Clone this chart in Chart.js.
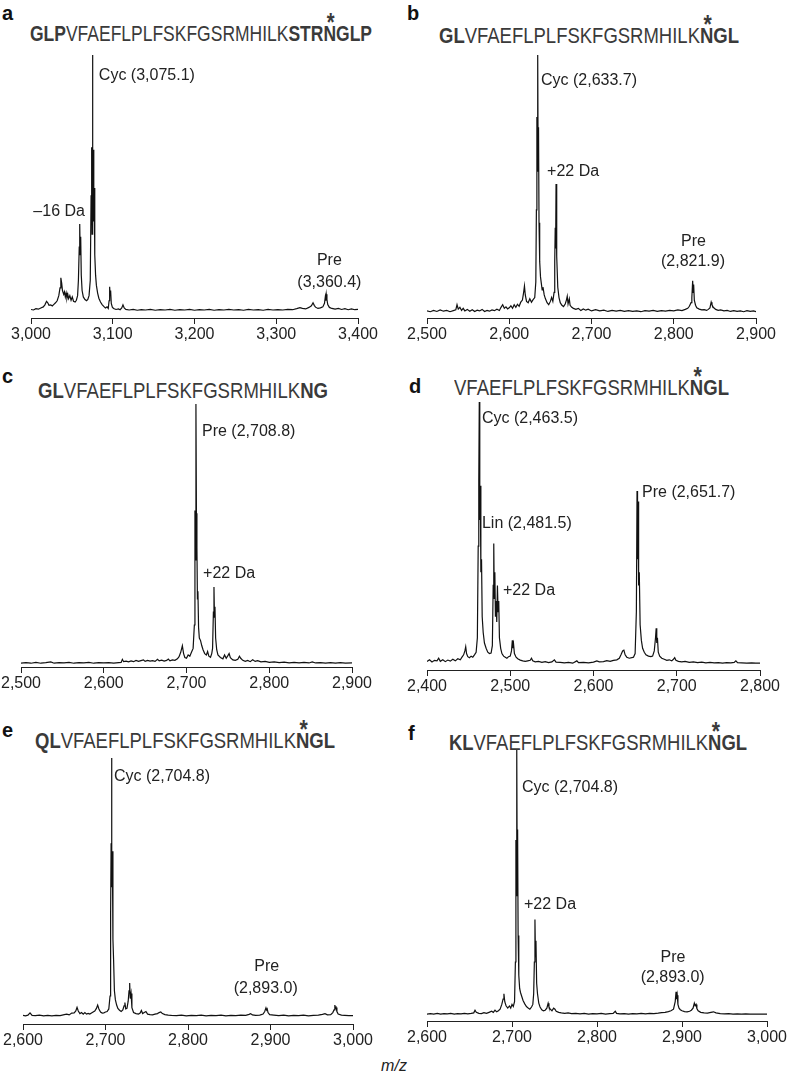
<!DOCTYPE html>
<html>
<head>
<meta charset="utf-8">
<script src="https://cdn.jsdelivr.net/npm/chart.js@4.4.0/dist/chart.umd.min.js"></script>
<style>
  body { margin: 0; background: #fff; }
  #page { position: relative; width: 788px; height: 1077px; overflow: hidden; font-family: "Liberation Sans", Arial, sans-serif; }
  .letter { position: absolute; font-weight: bold; font-size: 20px; line-height: 1; color: #111; }
  .seq { position: absolute; font-size: 22px; line-height: 1; color: #3a3a3a; white-space: nowrap; transform-origin: 0 0; }
  .seq b { font-weight: bold; }
  .n { position: relative; }
  .ast { position: absolute; left: 0.17em; top: -0.42em; font-size: 1.15em; font-weight: bold; }
  canvas { position: absolute; }
  #mz { position: absolute; left: 394px; top: 1058px; transform: translateX(-50%); font-style: italic; font-size: 16px; line-height: 1; color: #222; }
</style>
</head>
<body>
<div id="page"><div id="mz">m/z</div></div>
<script>
// spectra: [m/z, relative intensity %]
const spectrumA = [[3000,0.6],[3003,0.4],[3006,0.9],[3009,0.7],[3012,1.2],[3015,1.6],[3017,2.4],[3019,3.8],[3020.5,3.2],[3022,2.2],[3024,2.4],[3026,2.0],[3028,2.6],[3030,3.2],[3032,4.0],[3034,6.0],[3035.5,9],[3036.5,13],[3037.5,11],[3038.5,8],[3040,6.5],[3041,7.5],[3042,5.5],[3043,7],[3044,5],[3045,6.5],[3046,4.8],[3047.5,6],[3049,4.2],[3050.5,5.5],[3052,3.8],[3054,3.5],[3055.5,4.2],[3057,6],[3058,12],[3059,25],[3059.6,34],[3060.2,22],[3060.8,29],[3061.5,14],[3062.5,8],[3064,5.5],[3066,4.5],[3068,4],[3069.5,4.5],[3071,6],[3072.5,12],[3073.5,45],[3074.2,64],[3074.7,30],[3075.2,100],[3075.7,50],[3076.2,63],[3076.8,35],[3077.4,48],[3078,22],[3079,14],[3080,10],[3081.5,7],[3083,5],[3085,3.5],[3087,2.5],[3089,1.8],[3091,1.2],[3093,1.6],[3094.5,1],[3095.5,4],[3096.2,9.5],[3096.8,6],[3097.4,8],[3098.2,3],[3099.5,1.5],[3101,1],[3104,0.6],[3107,0.8],[3109,0.5],[3111,1.2],[3112.5,2.4],[3114,1.2],[3116,0.6],[3120,0.4],[3125,0.6],[3130,0.3],[3135,0.5],[3140,0.4],[3146,0.6],[3152,0.3],[3158,0.5],[3164,0.4],[3170,0.6],[3176,0.3],[3182,0.5],[3188,0.4],[3194,0.6],[3200,0.3],[3206,0.5],[3212,0.4],[3218,0.6],[3224,0.3],[3230,0.5],[3236,0.4],[3242,0.6],[3248,0.4],[3254,0.5],[3260,0.3],[3266,0.6],[3272,0.4],[3278,0.5],[3284,0.3],[3290,0.6],[3296,0.4],[3302,0.5],[3308,0.4],[3314,0.6],[3320,0.5],[3325,0.9],[3329,1.3],[3332,1.0],[3336,0.8],[3340,1.4],[3343,2.0],[3345,3.2],[3346.5,2.2],[3348,1.5],[3351,1.0],[3354,1.2],[3357,1.6],[3359,3],[3360,5.5],[3360.6,4],[3361.2,6.5],[3362,4.5],[3363,2.5],[3365,1.4],[3368,1.0],[3372,0.7],[3376,1.0],[3380,0.6],[3384,0.9],[3388,0.5],[3392,0.8],[3396,0.5],[3400,0.6]];

const spectrumB = [[2500,0.8],[2504,0.5],[2508,1.0],[2512,0.6],[2516,1.2],[2520,0.7],[2524,1.0],[2528,0.5],[2532,0.9],[2535,1.2],[2536.5,3.2],[2538,1.5],[2540,2.2],[2542,1.0],[2544,1.8],[2546,0.8],[2549,1.4],[2552,0.7],[2555,1.3],[2558,0.6],[2561,1.1],[2564,0.8],[2567,1.4],[2570,0.6],[2573,1.0],[2576,0.7],[2579,1.2],[2582,0.9],[2585,1.5],[2588,1.0],[2590,2.2],[2592,3.2],[2594,1.8],[2596,2.4],[2598,1.6],[2600,2.0],[2602,2.8],[2604,1.8],[2606,3.2],[2608,2.2],[2610,3.4],[2612,2.6],[2614,4.2],[2616,5],[2617.5,8],[2618.5,10.5],[2619.5,7],[2621,4.5],[2623,4],[2625,5.5],[2627,4.2],[2629,5.2],[2631,6],[2632.3,12],[2633,40],[2633.6,76],[2634.1,55],[2634.6,100],[2635.1,60],[2635.6,72],[2636.2,35],[2637,20],[2638,14],[2639,11.5],[2640,9],[2641,10],[2642.5,7],[2644,5.5],[2646,4],[2648,3.2],[2650,4.5],[2651.5,6],[2653,4.5],[2654.5,8],[2655.3,20],[2655.9,33],[2656.4,25],[2656.9,50],[2657.4,30],[2658,22],[2659,10],[2660.5,6],[2662,4],[2664,3],[2666,2.5],[2668,3.5],[2669.5,5],[2670.5,6.5],[2671.5,3.5],[2673,5.5],[2674,3],[2676,2.2],[2678,1.8],[2681,1.4],[2684,1.8],[2687,1.0],[2690,1.6],[2693,1.1],[2696,1.5],[2700,0.8],[2705,1.3],[2710,0.8],[2715,1.1],[2720,0.6],[2725,1.0],[2730,0.7],[2735,1.0],[2740,0.6],[2745,0.9],[2750,0.6],[2755,0.8],[2760,0.5],[2765,0.9],[2770,0.7],[2775,1.0],[2780,0.6],[2785,0.9],[2790,0.7],[2795,1.0],[2800,0.8],[2805,1.2],[2810,0.9],[2814,1.4],[2817,1.8],[2819,2.6],[2821,4],[2822,6],[2823,12.5],[2823.6,8],[2824.2,11],[2825,5],[2826.5,3],[2828,2],[2831,1.5],[2834,1.2],[2837,1.3],[2840,1.0],[2842,1.4],[2844,2.0],[2845.5,4.2],[2846.5,3.2],[2848,2.2],[2851,1.4],[2854,1.0],[2857,1.2],[2861,0.8],[2865,1.0],[2869,0.6],[2873,0.9],[2877,0.6],[2881,0.8],[2885,0.5],[2889,0.9],[2893,0.6],[2897,0.8],[2900,0.5]];

const spectrumC = [[2500,0.3],[2506,0.5],[2512,0.3],[2518,0.6],[2524,0.3],[2530,0.5],[2536,0.8],[2540,0.3],[2546,0.5],[2552,0.4],[2558,0.6],[2564,0.3],[2570,0.5],[2576,0.4],[2582,0.6],[2588,0.3],[2594,0.5],[2600,0.4],[2606,0.5],[2612,0.3],[2618,0.5],[2621,0.6],[2622.5,1.8],[2624,0.9],[2627,1.1],[2630,0.8],[2633,1.2],[2636,0.9],[2639,1.4],[2642,1.0],[2645,1.3],[2648,1.6],[2650,1.0],[2653,1.4],[2656,1.1],[2659,1.3],[2662,1.0],[2665,1.8],[2667,1.2],[2670,1.5],[2673,1.1],[2676,1.4],[2678,1.9],[2680,1.2],[2683,1.6],[2686,1.4],[2689,2.0],[2691,2.8],[2693,4.5],[2695,7],[2696.5,4],[2698,2.5],[2700,2.2],[2702,3.5],[2704,3],[2706,4.5],[2708,6],[2709.5,15],[2710.2,59],[2710.8,40],[2711.4,100],[2712,58],[2712.6,45],[2713.2,25],[2713.8,28],[2714.6,14],[2715.5,10],[2717,9],[2718.5,7],[2720,5.5],[2722,4],[2724,3.5],[2725.5,4.8],[2727,3],[2729,2.6],[2730.5,4],[2731.5,6],[2732.5,20],[2733.2,29.6],[2733.8,18],[2734.4,22],[2735.2,10],[2736.5,5.5],[2738,3.5],[2741,2.5],[2744,2],[2746,3.5],[2748,2.2],[2750,3.2],[2751.5,4],[2753,2.4],[2756,1.6],[2759,1.4],[2762,1.8],[2764,3],[2765.5,2.2],[2768,1.4],[2771,1.0],[2774,1.4],[2777,0.9],[2780,1.6],[2783,1.0],[2786,1.3],[2790,0.8],[2795,1.0],[2800,0.6],[2806,0.8],[2812,0.5],[2818,0.7],[2824,0.4],[2830,0.6],[2836,0.4],[2842,0.6],[2848,0.4],[2852,0.8],[2856,0.4],[2862,0.5],[2868,0.3],[2874,0.5],[2880,0.3],[2886,0.5],[2892,0.3],[2900,0.4]];

const spectrumD = [[2400,1.0],[2403,1.6],[2406,0.8],[2409,1.4],[2412,1.2],[2414,2.2],[2416,1.0],[2419,1.6],[2422,0.9],[2425,1.5],[2428,1.1],[2431,1.8],[2434,1.2],[2437,2.0],[2440,1.6],[2442,2.6],[2444,3.5],[2445.5,5],[2446.5,6.6],[2447.5,4],[2449,2.8],[2451,2.4],[2453,3],[2455,2.6],[2457,3.5],[2459,4.5],[2460.5,10],[2461.5,45],[2462.2,70],[2462.8,100],[2463.4,55],[2464,68],[2464.7,35],[2465.5,40],[2466.3,18],[2467.5,12],[2469,8],[2471,6],[2473,4.5],[2475,4],[2477,4.2],[2478.5,7],[2479.5,30],[2480.2,46],[2480.8,25],[2481.5,35],[2482.2,18],[2483,24],[2483.8,16],[2484.6,30],[2485.4,20],[2486.2,24],[2487,10],[2488.5,6],[2490,4],[2492,3],[2494,2.6],[2496,2.2],[2498,2.8],[2500,3],[2501.5,5],[2502.5,9],[2503.3,6],[2504,7.5],[2505,4],[2507,2.6],[2509,2],[2512,1.5],[2515,1.2],[2518,1.0],[2521,1.2],[2524,1.4],[2525.5,2.2],[2527,1.2],[2530,0.8],[2534,1.0],[2538,0.6],[2542,0.9],[2546,0.5],[2550,0.8],[2553,1.6],[2555,0.7],[2560,0.6],[2565,0.4],[2570,0.6],[2575,0.3],[2580,1.2],[2582,0.5],[2588,0.6],[2594,0.4],[2600,0.7],[2604,1.2],[2607,0.8],[2612,0.9],[2616,1.3],[2620,1.0],[2624,1.4],[2628,1.6],[2631,2.2],[2633,3.5],[2635,5],[2636.5,5.3],[2638,3.5],[2640,2.6],[2643,2.2],[2646,2.4],[2648,2.6],[2650,4],[2651.5,20],[2652.3,66],[2652.9,40],[2653.5,62],[2654.2,30],[2655,35],[2656,15],[2657.5,9],[2659,6],[2661,4.5],[2663,3.5],[2666,3],[2669,2.8],[2671,3],[2673,5],[2674.5,10],[2675.3,13.6],[2676,8],[2676.8,10],[2677.8,4.5],[2679.5,3],[2682,2.2],[2685,1.8],[2688,1.4],[2691,1.6],[2694,1.2],[2696,1.8],[2697.5,2.4],[2699,1.4],[2702,1.0],[2706,0.8],[2710,1.0],[2715,0.6],[2720,0.8],[2725,0.5],[2730,0.7],[2735,0.4],[2740,0.6],[2745,0.4],[2750,0.5],[2755,0.3],[2760,0.5],[2765,0.4],[2769,0.6],[2771,1.2],[2773,0.5],[2778,0.4],[2784,0.3],[2790,0.4],[2795,0.3],[2800,0.3]];

const spectrumE = [[2600,0.5],[2603,0.3],[2606,0.6],[2608.5,1.5],[2611,0.5],[2615,0.4],[2620,0.6],[2625,0.3],[2630,0.5],[2635,0.3],[2640,0.5],[2645,0.4],[2650,0.8],[2653,1.0],[2656,0.7],[2659,1.4],[2662,1.5],[2664,2.2],[2665.5,3.6],[2667,2.2],[2669,1.2],[2671,1.6],[2673,1.0],[2675,1.6],[2677,1.0],[2679,1.3],[2681,1.0],[2683,1.4],[2685,1.8],[2687,2.2],[2689,3.2],[2690.5,4.5],[2692,3],[2694,1.8],[2696,1.4],[2698,1.5],[2700,1.8],[2702,2],[2704,3],[2705.5,8],[2706.2,40],[2706.8,67],[2707.3,100],[2707.8,50],[2708.3,64],[2709,30],[2709.8,22],[2710.8,10],[2712,6.5],[2713.5,4.5],[2715,3.2],[2717,2.5],[2719,2],[2721,2.6],[2722.5,4.2],[2723.5,5.5],[2724.5,3],[2726,3.2],[2727.5,6],[2728.5,10],[2729.3,13],[2730,7],[2731,9],[2732,3.5],[2734,1.6],[2737,1.2],[2740,1.0],[2742,1.4],[2743.5,2.4],[2745,1.2],[2747,1.6],[2749,2],[2751,1],[2754,0.8],[2757,0.7],[2760,1.0],[2763,1.2],[2765,1.6],[2767,1.8],[2769,1.2],[2772,0.8],[2776,0.6],[2780,0.5],[2786,0.4],[2792,0.6],[2798,0.3],[2804,0.5],[2810,0.4],[2816,0.6],[2822,0.3],[2828,0.5],[2834,0.4],[2840,0.6],[2846,0.3],[2852,0.5],[2858,0.4],[2864,0.6],[2870,0.5],[2874,0.9],[2876,1.2],[2878,0.7],[2882,0.5],[2887,0.6],[2891,1.0],[2893,2],[2894.5,3.4],[2895.3,2.6],[2896,3],[2897,1.6],[2899,0.8],[2904,0.6],[2910,0.4],[2916,0.6],[2922,0.3],[2928,0.5],[2934,0.4],[2940,0.6],[2946,0.3],[2952,0.5],[2958,0.6],[2963,0.9],[2966,1.2],[2969,0.7],[2973,0.8],[2975.5,1.6],[2977,2.6],[2978,4.5],[2978.7,3.2],[2979.5,3.6],[2980.5,2],[2982,1.0],[2986,0.6],[2990,0.5],[2995,0.4],[3000,0.4]];

const spectrumF = [[2600,0.3],[2604,0.5],[2608,0.3],[2612,0.6],[2616,0.3],[2620,0.5],[2624,0.4],[2628,0.6],[2632,0.3],[2636,0.5],[2640,0.4],[2644,0.6],[2648,0.4],[2652,0.6],[2655,0.8],[2656.5,1.8],[2658,1.0],[2661,0.6],[2664,0.5],[2667,0.9],[2670,0.6],[2673,1.0],[2676,1.4],[2678,1.0],[2680,1.8],[2682,1.2],[2684,1.6],[2686,2.2],[2688,4],[2689.5,6],[2690.5,8],[2691.5,5],[2693,3.5],[2695,2.6],[2697,3.4],[2698.5,2.6],[2700,4],[2701.5,3.2],[2703,5],[2704,20],[2704.6,66],[2705.1,45],[2705.6,100],[2706.1,55],[2706.6,70],[2707.2,30],[2708,15],[2709,10],[2710,8.5],[2711.5,7],[2713,5.5],[2715,4.2],[2717,3.2],[2719,2.6],[2721,2.2],[2723,3],[2724.5,4],[2725.5,8],[2726.3,20],[2727,36],[2727.6,22],[2728.2,28],[2729,12],[2730,8],[2731.5,4.5],[2733,3],[2735,2],[2737,1.6],[2739,1.8],[2741,2.6],[2742.5,4.4],[2743.5,3],[2745,2.2],[2747,1.6],[2749,2.6],[2750.5,2.2],[2752,1.4],[2755,1.0],[2758,0.8],[2762,0.6],[2766,0.8],[2770,0.5],[2775,0.6],[2780,0.4],[2785,0.6],[2790,0.3],[2795,0.5],[2800,0.4],[2805,0.6],[2810,0.3],[2815,0.5],[2819,0.6],[2821.5,1.4],[2823,0.6],[2827,0.4],[2832,0.5],[2837,0.3],[2842,0.5],[2847,0.4],[2852,0.6],[2857,0.4],[2862,0.6],[2867,0.5],[2872,0.7],[2876,0.9],[2880,1.0],[2884,1.3],[2887,1.6],[2890,2.2],[2892,5],[2893,8.8],[2893.7,6],[2894.4,7.5],[2895.2,4],[2896.5,2.6],[2898,2],[2900,1.6],[2903,1.3],[2906,1.2],[2909,1.4],[2911,1.8],[2913,2.6],[2914.5,4.5],[2915.5,3.5],[2916.5,4],[2917.5,2.4],[2919,1.6],[2922,1.0],[2926,0.8],[2930,0.7],[2934,1.0],[2937,1.2],[2940,0.8],[2945,0.5],[2950,0.4],[2955,0.5],[2960,0.3],[2965,0.4],[2970,0.3],[2975,0.4],[2980,0.3],[2985,0.3],[2990,0.3],[2995,0.3],[3000,0.3]];

// x-axis tick values
const ticksA = [3000, 3100, 3200, 3300, 3400];
const ticksB = [2500, 2600, 2700, 2800, 2900];
const ticksC = [2500, 2600, 2700, 2800, 2900];
const ticksD = [2400, 2500, 2600, 2700, 2800];
const ticksE = [2600, 2700, 2800, 2900, 3000];
const ticksF = [2600, 2700, 2800, 2900, 3000];

// peak annotations, anchored in data space (m/z, intensity)
const labelsA = [
  { text: 'Cyc (3,075.1)', x: 3083, y: 92, align: 'left' },
  { text: '–16 Da', x: 3066, y: 39, align: 'right' },
  { text: 'Pre', x: 3365, y: 19.5, align: 'center' },
  { text: '(3,360.4)', x: 3365, y: 11, align: 'center' }
];
const labelsB = [
  { text: 'Cyc (2,633.7)', x: 2638.6, y: 90, align: 'left' },
  { text: '+22 Da', x: 2646, y: 55, align: 'left' },
  { text: 'Pre', x: 2824, y: 27.5, align: 'center' },
  { text: '(2,821.9)', x: 2823.4, y: 19.8, align: 'center' }
];
const labelsC = [
  { text: 'Pre (2,708.8)', x: 2718.7, y: 89.2, align: 'left' },
  { text: '+22 Da', x: 2720, y: 34.6, align: 'left' }
];
const labelsD = [
  { text: 'Cyc (2,463.5)', x: 2466, y: 93.5, align: 'left' },
  { text: 'Lin (2,481.5)', x: 2466, y: 53.4, align: 'left' },
  { text: '+22 Da', x: 2491.3, y: 28.2, align: 'left' },
  { text: 'Pre (2,651.7)', x: 2658.3, y: 65.3, align: 'left' }
];
const labelsE = [
  { text: 'Cyc (2,704.8)', x: 2710.3, y: 92.7, align: 'left' },
  { text: 'Pre', x: 2895.4, y: 19.3, align: 'center' },
  { text: '(2,893.0)', x: 2894.2, y: 10.7, align: 'center' }
];
const labelsF = [
  { text: 'Cyc (2,704.8)', x: 2711.8, y: 85.8, align: 'left' },
  { text: '+22 Da', x: 2714.1, y: 41.5, align: 'left' },
  { text: 'Pre', x: 2889.4, y: 21.7, align: 'center' },
  { text: '(2,893.0)', x: 2889, y: 14, align: 'center' }
];

const AST = '<span class="n">N<span class="ast">*</span></span>';
const MID = 'VFAEFLPLFSKFGSRMHILK';

// layout of each panel in page pixels: tick min/max x, peak top, baseline, axis line
const panels = [
  { letter: 'a', lx: 2, ly: 3, seq: '<b>GLP</b>' + MID + '<b>STR' + AST + 'GLP</b>', sx: 30, sw: 342, sy: 26,
    data: spectrumA, ticks: ticksA, labels: labelsA, left: 31, right: 358, top: 55, base: 311, axis: 318 },
  { letter: 'b', lx: 407, ly: 3, seq: '<b>GL</b>' + MID + '<b>' + AST + 'GL</b>', sx: 439, sw: 300, sy: 28,
    data: spectrumB, ticks: ticksB, labels: labelsB, left: 427, right: 756, top: 55, base: 313, axis: 318 },
  { letter: 'c', lx: 2, ly: 366, seq: '<b>GL</b>' + MID + '<b>NG</b>', sx: 38, sw: 290, sy: 383,
    data: spectrumC, ticks: ticksC, labels: labelsC, left: 21, right: 352, top: 404, base: 664, axis: 667 },
  { letter: 'd', lx: 409, ly: 376, seq: MID + '<b>' + AST + 'GL</b>', sx: 454, sw: 275, sy: 380,
    data: spectrumD, ticks: ticksD, labels: labelsD, left: 427, right: 760, top: 402, base: 664, axis: 670 },
  { letter: 'e', lx: 2, ly: 720, seq: '<b>QL</b>' + MID + '<b>' + AST + 'GL</b>', sx: 35, sw: 300, sy: 733,
    data: spectrumE, ticks: ticksE, labels: labelsE, left: 23, right: 353, top: 758, base: 1016.7, axis: 1024 },
  { letter: 'f', lx: 408, ly: 723, seq: '<b>KL</b>' + MID + '<b>' + AST + 'GL</b>', sx: 449, sw: 298, sy: 735,
    data: spectrumF, ticks: ticksF, labels: labelsF, left: 427, right: 767, top: 750, base: 1015, axis: 1021 }
];

const PAD_X = 30, PAD_T = 10, PAD_B = 4, AXIS_H = 30;
const FONT = '"Liberation Sans", Arial, sans-serif';
const page = document.getElementById('page');

const labelPlugin = (items) => ({
  id: 'peakLabels',
  afterDatasetsDraw(chart) {
    const { ctx, scales } = chart;
    ctx.save();
    ctx.font = '16px ' + FONT;
    ctx.fillStyle = '#222';
    ctx.textBaseline = 'middle';
    items.forEach(l => {
      ctx.textAlign = l.align;
      ctx.fillText(l.text, scales.x.getPixelForValue(l.x), scales.y.getPixelForValue(l.y));
    });
    ctx.restore();
  }
});

panels.forEach(p => {
  const letter = document.createElement('div');
  letter.className = 'letter';
  letter.style.left = p.lx + 'px';
  letter.style.top = p.ly + 'px';
  letter.textContent = p.letter;
  page.appendChild(letter);

  // sequence title, squeezed to the width it has in the figure
  const seq = document.createElement('div');
  seq.className = 'seq';
  seq.innerHTML = p.seq;
  seq.style.left = p.sx + 'px';
  seq.style.top = (p.sy - 2.9) + 'px';
  page.appendChild(seq);
  seq.style.transform = `scaleX(${p.sw / seq.getBoundingClientRect().width})`;

  const w = p.right - p.left + 2 * PAD_X;
  const h = p.axis - p.top + PAD_T + AXIS_H + PAD_B;
  const cv = document.createElement('canvas');
  cv.width = w; cv.height = h;
  cv.style.width = w + 'px'; cv.style.height = h + 'px';
  cv.style.left = (p.left - PAD_X) + 'px';
  cv.style.top = (p.top - PAD_T) + 'px';
  page.appendChild(cv);

  const yMin = -100 * (p.axis - p.base) / (p.base - p.top);

  new Chart(cv, {
    type: 'line',
    data: {
      datasets: [{
        data: p.data.map(d => ({ x: d[0], y: d[1] })),
        borderColor: '#111',
        borderWidth: 1.2,
        pointRadius: 0,
        tension: 0,
        fill: false
      }]
    },
    options: {
      responsive: false,
      animation: false,
      devicePixelRatio: 1,
      layout: { padding: { left: PAD_X, right: PAD_X, top: PAD_T, bottom: PAD_B } },
      plugins: { legend: { display: false }, tooltip: { enabled: false } },
      scales: {
        x: {
          type: 'linear',
          min: p.ticks[0],
          max: p.ticks[p.ticks.length - 1],
          afterBuildTicks: s => { s.ticks = p.ticks.map(v => ({ value: v })); },
          afterFit: s => { s.height = AXIS_H; },
          ticks: {
            callback: v => v.toLocaleString('en-US'),
            font: { size: 16, family: FONT },
            color: '#222',
            padding: 1,
            maxRotation: 0,
            autoSkip: false
          },
          grid: { drawOnChartArea: false, drawTicks: true, tickLength: 6, color: '#222', lineWidth: 1 },
          border: { display: true, color: '#222', width: 1 }
        },
        y: { display: false, min: yMin, max: 100 }
      }
    },
    plugins: [labelPlugin(p.labels)]
  });
});
</script>
</body>
</html>
